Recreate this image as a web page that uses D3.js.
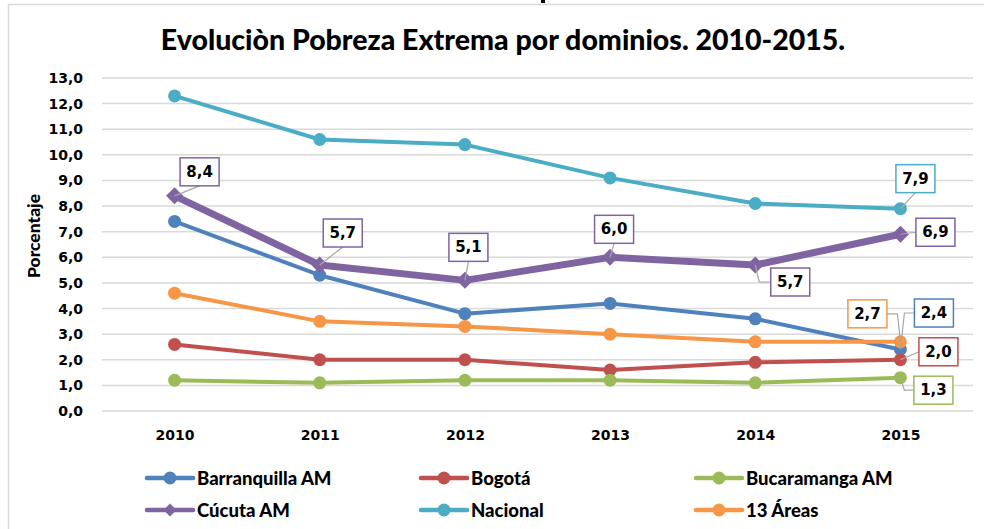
<!DOCTYPE html>
<html><head><meta charset="utf-8">
<script src="https://cdn.jsdelivr.net/npm/d3@7"></script>
<style>body{margin:0;background:#fff}svg{display:block}</style>
</head><body>
<svg id="c" width="984" height="529"></svg>
<script>
const years = ["2010","2011","2012","2013","2014","2015"];
const seriesNames = ["Barranquilla AM","Bogotá","Bucaramanga AM","Cúcuta AM","Nacional","13 Áreas"];
const barranquilla = [7.4, 5.3, 3.8, 4.2, 3.6, 2.4];
const bogota       = [2.6, 2.0, 2.0, 1.6, 1.9, 2.0];
const bucaramanga  = [1.2, 1.1, 1.2, 1.2, 1.1, 1.3];
const cucuta       = [8.4, 5.7, 5.1, 6.0, 5.7, 6.9];
const nacional     = [12.3, 10.6, 10.4, 9.1, 8.1, 7.9];
const areas13      = [4.6, 3.5, 3.3, 3.0, 2.7, 2.7];
const yTicks = [0,1,2,3,4,5,6,7,8,9,10,11,12,13];
const titleText = "Evoluciòn Pobreza Extrema por dominios. 2010-2015.";
const yAxisTitle = "Porcentaje";

// styling (separate from data)
const colors = ["#4F81BD","#C0504D","#9BBB59","#8064A2","#4BACC6","#F79646"];
const values = [barranquilla, bogota, bucaramanga, cucuta, nacional, areas13];
const series = seriesNames.map((n,i)=>({name:n, values:values[i], color:colors[i], diamond: i===3, width: i===3?7:4}));

// label layout: series index, year index, box offset from point, leader anchor
const labelLayout = [
  {s:3, i:0, dx:25, dy:-24, anchor:"bottom"},
  {s:3, i:1, dx:23, dy:-32, anchor:"bottom"},
  {s:3, i:2, dx:3.5, dy:-33, anchor:"bottom"},
  {s:3, i:3, dx:4, dy:-28, anchor:"bottom"},
  {s:3, i:4, dx:35, dy:17, anchor:"left", elbow:true},
  {s:4, i:5, dx:15, dy:-30, anchor:"bottom"},
  {s:3, i:5, dx:35, dy:-2, anchor:"left"},
  {s:5, i:5, dx:-33, dy:-28, anchor:"right", elbow:true},
  {s:0, i:5, dx:33.5, dy:-36.5, anchor:"left", elbow:true},
  {s:1, i:5, dx:38, dy:-8, anchor:"left"},
  {s:2, i:5, dx:33, dy:12.5, anchor:"left", elbow:true}
];

const fmt = d3.formatLocale({decimal:",", thousands:".", grouping:[3], currency:["$",""]}).format(".1f");
const svg = d3.select("#c");

// frame
svg.append("path").attr("d","M8.5,529 V4.5 H984").attr("fill","none").attr("stroke","#d9d9d9").attr("stroke-width",1.5);
// cut-off glyph fragment at the top edge
svg.append("rect").attr("x",541).attr("y",0).attr("width",4).attr("height",3).attr("fill","#000");

const x = d3.scalePoint().domain(years).range([102, 973]).padding(0.5);
const y = d3.scaleLinear().domain([0,13]).range([411, 78]);

// title
svg.append("text").attr("x",503).attr("y",50).attr("text-anchor","middle")
  .attr("font-family","Lato").attr("font-weight","900").attr("font-size",28.5).attr("fill","#000").text(titleText);

// grid
svg.append("g").selectAll("line").data(yTicks).join("line")
  .attr("x1",102).attr("x2",973).attr("y1",d=>y(d)).attr("y2",d=>y(d))
  .attr("stroke","#d9d9d9").attr("stroke-width",1.5);

// y axis ticks
const yAxis = d3.axisLeft(y).tickValues(yTicks).tickFormat(fmt).tickSize(0).tickPadding(0);
const gy = svg.append("g").attr("transform","translate(83,0)").call(yAxis);
gy.select(".domain").remove();
gy.selectAll("text").attr("font-family","DejaVu Sans").attr("font-weight","bold").attr("font-size",14).attr("fill","#000");

// x axis
const xAxis = d3.axisBottom(x).tickSize(0).tickPadding(0);
const gx = svg.append("g").attr("transform","translate(0,430)").call(xAxis);
gx.select(".domain").remove();
gx.selectAll("text").attr("font-family","DejaVu Sans").attr("font-weight","bold").attr("font-size",14).attr("fill","#000");

// y axis title
svg.append("text").attr("transform","translate(40,236) rotate(-90)").attr("text-anchor","middle")
  .attr("font-family","Lato").attr("font-weight","900").attr("font-size",17.5).attr("fill","#000").text(yAxisTitle);

const line = d3.line().x((d,i)=>x(years[i])).y(d=>y(d));
const diamondPath = r => `M0,${-r}L${r},0L0,${r}L${-r},0Z`;

series.forEach(s=>{
  const g = svg.append("g");
  g.append("path").attr("d", line(s.values)).attr("fill","none").attr("stroke",s.color)
    .attr("stroke-width",s.width).attr("stroke-linejoin","round").attr("stroke-linecap","round");
  if (s.diamond) {
    g.selectAll("path.m").data(s.values).join("path").attr("class","m")
      .attr("d", diamondPath(8.5)).attr("transform",(d,i)=>`translate(${x(years[i])},${y(d)})`).attr("fill",s.color);
  } else {
    g.selectAll("circle").data(s.values).join("circle")
      .attr("cx",(d,i)=>x(years[i])).attr("cy",d=>y(d)).attr("r",6.5).attr("fill",s.color);
  }
});

// data labels
const bw = 39, bh = 28;
labelLayout.forEach(l=>{
  const s = series[l.s];
  const px = x(years[l.i]), py = y(s.values[l.i]);
  const cx = px + l.dx, cy = py + l.dy;
  let ax, ay;
  if (l.anchor==="bottom"){ax=cx; ay=cy+bh/2;}
  else if (l.anchor==="left"){ax=cx-bw/2; ay=cy;}
  else {ax=cx+bw/2; ay=cy;}
  let pts;
  if (l.elbow) {
    const ex = l.anchor==="right" ? px-3 : px+4;
    pts = [[px,py],[ex,ay],[ax,ay]];
  } else pts = [[px,py],[ax,ay]];
  svg.append("path").attr("d", d3.line()(pts)).attr("fill","none").attr("stroke","#a6a6a6").attr("stroke-width",1.2);
  svg.append("rect").attr("x",cx-bw/2).attr("y",cy-bh/2).attr("width",bw).attr("height",bh)
    .attr("fill","#fff").attr("stroke",s.color).attr("stroke-width",1.5);
  svg.append("text").attr("x",cx).attr("y",cy).attr("text-anchor","middle").attr("dominant-baseline","central")
    .attr("font-family","DejaVu Sans").attr("font-weight","bold").attr("font-size",15).attr("fill","#000")
    .text(fmt(s.values[l.i]));
});

// legend
const legX = [147, 421, 696], legY = [478, 510];
series.forEach((s,k)=>{
  const lx = legX[k%3], ly = legY[Math.floor(k/3)];
  const g = svg.append("g");
  g.append("line").attr("x1",lx).attr("x2",lx+46).attr("y1",ly).attr("y2",ly).attr("stroke",s.color).attr("stroke-width",4.5).attr("stroke-linecap","round");
  if (s.diamond) g.append("path").attr("d",diamondPath(6.5)).attr("transform",`translate(${lx+23},${ly})`).attr("fill",s.color);
  else g.append("circle").attr("cx",lx+23).attr("cy",ly).attr("r",6.5).attr("fill",s.color);
  g.append("text").attr("x",lx+50).attr("y",ly).attr("dominant-baseline","central")
    .attr("font-family","Lato").attr("font-weight","900").attr("font-size",18.5).attr("fill","#000").text(s.name);
});
</script>
</body></html>
